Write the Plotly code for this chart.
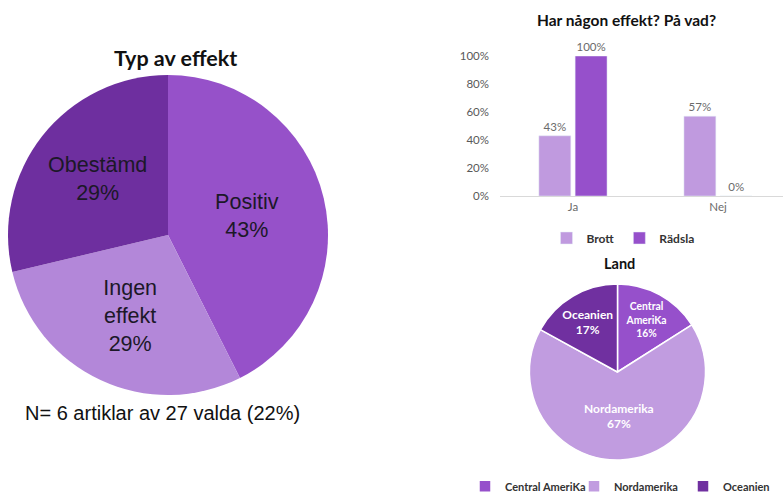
import plotly.graph_objects as go

W, H = 783, 492

# Big pie data
effekt_labels = ["Positiv", "Ingen effekt", "Obestämd"]
effekt_text = ["Positiv", "Ingen<br>effekt", "Obestämd"]
effekt_values = [43, 29, 29]
effekt_colors = ["#9651C9", "#B387D9", "#6E2F9F"]

# Bar chart data
bar_categories = ["Ja", "Nej"]
brott_values = [43, 57]
radsla_values = [100, 0]
y_ticks = [0, 20, 40, 60, 80, 100]

# Small pie data
land_labels = ["Central AmeriKa", "Nordamerika", "Oceanien"]
land_text = ["Central<br>AmeriKa", "Nordamerika", "Oceanien"]
land_values = [16, 67, 17]
land_colors = ["#9650CB", "#C19CE0", "#7030A0"]

def px(x):
    return x / W

def py(y):
    return 1 - y / H

fig = go.Figure()

fig.add_trace(go.Pie(
    labels=effekt_labels, values=effekt_values, text=effekt_text,
    texttemplate="%{text}<br>%{value}%", textinfo="text",
    sort=False, direction="clockwise", rotation=0,
    marker=dict(colors=effekt_colors, line=dict(width=0)),
    textposition="inside", insidetextorientation="horizontal",
    textfont=dict(family="Liberation Sans, Arial", size=21.5, color="#1c1828"),
    domain=dict(x=[px(8), px(328)], y=[py(395), py(75)]),
    showlegend=False, hoverinfo="label+percent",
))

fig.add_trace(go.Bar(
    x=bar_categories, y=brott_values, name="Brott",
    marker_color="#C09ADF", text=[f"{v}%" for v in brott_values],
    textposition="outside", cliponaxis=False,
    textfont=dict(family="Lato, Open Sans", size=11.5, color="#6b6b6b"),
    xaxis="x", yaxis="y", legend="legend",
))
fig.add_trace(go.Bar(
    x=bar_categories, y=radsla_values, name="Rädsla",
    marker_color="#9650CB", text=[f"{v}%" for v in radsla_values],
    textposition="outside", cliponaxis=False,
    textfont=dict(family="Lato, Open Sans", size=11.5, color="#6b6b6b"),
    xaxis="x", yaxis="y", legend="legend",
))

fig.add_trace(go.Pie(
    labels=land_labels, values=land_values, text=land_text,
    texttemplate="<b>%{text}<br>%{value}%</b>", textinfo="text",
    sort=False, direction="clockwise", rotation=0,
    marker=dict(colors=land_colors, line=dict(width=1.5, color="white")),
    textposition="inside", insidetextorientation="horizontal",
    textfont=dict(family="Lato, Open Sans", size=12, color="white"),
    domain=dict(x=[px(529), px(706)], y=[py(460), py(284)]),
    legend="legend2", hoverinfo="label+percent",
))

fig.update_layout(
    width=W, height=H,
    margin=dict(l=0, r=0, t=0, b=0, autoexpand=False),
    paper_bgcolor="white", plot_bgcolor="white",
    barmode="group", bargap=0.5, bargroupgap=0.12,
    xaxis=dict(domain=[px(500), 1], range=[-0.503, 1.448],
               showgrid=False, showline=True, linecolor="#d9d9d9", linewidth=1,
               ticks="", tickfont=dict(family="Lato, Open Sans", size=11.5, color="#6b6b6b"),
               anchor="y", fixedrange=True),
    yaxis=dict(domain=[py(196), py(56)], range=[0, 100],
               tickvals=y_ticks, ticktext=[f"{v}%" for v in y_ticks],
               showgrid=False, showline=False, zeroline=False,
               ticks="", ticklabelstandoff=10,
               tickfont=dict(family="Lato, Open Sans", size=11.5, color="#595959"),
               anchor="x", fixedrange=True),
    legend=dict(orientation="h", x=px(623), xanchor="center", y=py(238), yanchor="middle",
                font=dict(family="Lato, Open Sans", size=12, color="#333333", weight="bold"),
                itemwidth=30, tracegroupgap=0, bgcolor="rgba(0,0,0,0)"),
    legend2=dict(orientation="h", x=px(465), xanchor="left", y=-0.018, yanchor="bottom",
                 font=dict(family="Lato, Open Sans", size=11, color="#333333", weight="bold"),
                 itemwidth=30, entrywidth=64, entrywidthmode="pixels",
                 bgcolor="rgba(0,0,0,0)"),
    annotations=[
        dict(text="<b>Typ av effekt</b>", x=px(175), y=py(58), xref="paper", yref="paper",
             xanchor="center", yanchor="middle",
             showarrow=False, font=dict(family="Lato, Open Sans", size=21.5, color="#111111")),
        dict(text="N= 6 artiklar av 27 valda (22%)", x=px(162), y=py(413), xref="paper", yref="paper",
             xanchor="center", yanchor="middle",
             showarrow=False, font=dict(family="Liberation Sans, Arial", size=20, color="#111111")),
        dict(text="<b>Har någon effekt? På vad?</b>", x=px(626), y=py(20), xref="paper", yref="paper",
             xanchor="center", yanchor="middle",
             showarrow=False, font=dict(family="Lato, Open Sans", size=15.5, color="#111111")),
        dict(text="<b>Land</b>", x=px(619), y=py(263), xref="paper", yref="paper",
             xanchor="center", yanchor="middle",
             showarrow=False, font=dict(family="Lato, Open Sans", size=14.5, color="#111111")),
    ],
)

fig.write_html("out.html", config={"displayModeBar": False},
               post_script="document.body.style.margin='0px';document.body.style.overflow='hidden';")
